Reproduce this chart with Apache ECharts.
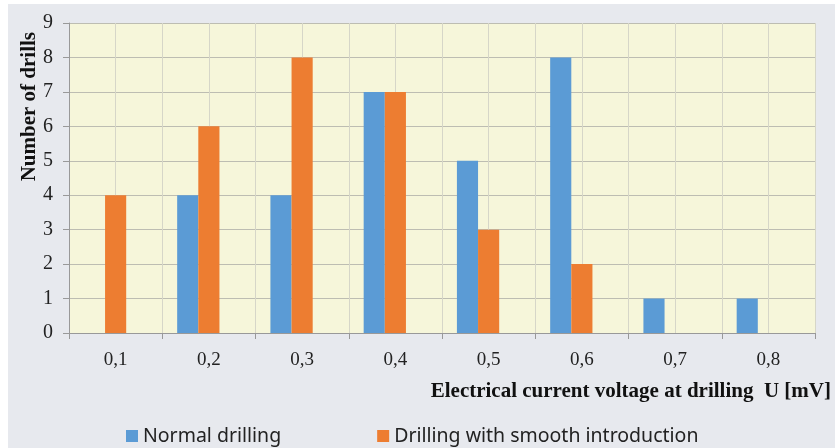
<!DOCTYPE html>
<html><head><meta charset="utf-8">
<script src="https://cdn.jsdelivr.net/npm/echarts@6/dist/echarts.min.js"></script>
<style>html,body{margin:0;padding:0;background:#fff;}#c{position:absolute;left:0;top:0;width:835px;height:448px;}</style>
</head><body><div id="c"></div>
<script>
const categories = ['0,1','0,2','0,3','0,4','0,5','0,6','0,7','0,8'];
const normalDrilling = [0,4,4,7,5,8,1,1];
const smoothIntroduction = [4,6,8,7,3,2,0,0];
const yTicks = [0,1,2,3,4,5,6,7,8,9];
const xTitle = 'Electrical current voltage at drilling  U [mV]';
const yTitle = 'Number of drills';

const chart = echarts.init(document.getElementById('c'));
const serif = '"Liberation Serif", "Times New Roman", serif';
chart.setOption({
  backgroundColor: '#ffffff',
  animation: false,
  grid: { left: 69, top: 23, right: 20, bottom: 115, show: true, backgroundColor: '#f6f6da', borderWidth: 0, outerBoundsMode: 'none', containLabel: false },
  legend: {
    data: ['Normal drilling', 'Drilling with smooth introduction'],
    left: 121, top: 421, itemWidth: 12, itemHeight: 12, itemGap: 96,
    icon: 'rect',
    textStyle: { fontFamily: '"Noto Sans", sans-serif', fontSize: 19.5, color: '#222' }
  },
  graphic: [
    { type: 'rect', z: -10, silent: true, shape: { x: 8, y: 4, width: 827, height: 444 }, style: { fill: '#e7e9ee' } },
    { type: 'text', right: 4, top: 381, style: { text: xTitle, font: 'bold 21px ' + serif, fill: '#111' } },
    { type: 'text', left: 19, top: 32, rotation: Math.PI / 2, originX: 0, originY: 0,
      style: { text: yTitle, font: 'bold 21px ' + serif, fill: '#111' } }
  ],
  xAxis: [{
    type: 'category', data: categories,
    axisLine: { lineStyle: { color: '#999' } },
    axisTick: { show: true, length: 6, lineStyle: { color: '#999' } },
    axisLabel: { fontFamily: serif, fontSize: 19, color: '#222', margin: 18 },
    splitLine: { show: true, lineStyle: { color: '#b4b4b4' } }
  }, {
    type: 'value', min: 0, max: 8, interval: 0.5, position: 'top', show: true,
    axisLine: { show: false }, axisTick: { show: false }, axisLabel: { show: false },
    splitLine: { show: true, lineStyle: { color: '#d6d6c8' } }, z: 0
  }],
  yAxis: {
    type: 'value', min: 0, max: 9, interval: 1,
    axisLine: { show: true, lineStyle: { color: '#999' } },
    axisTick: { show: true, length: 6, lineStyle: { color: '#999' } },
    axisLabel: { fontFamily: serif, fontSize: 20, color: '#222', margin: 16,
      formatter: v => yTicks.includes(v) ? String(v) : '' },
    splitLine: { show: true, lineStyle: { color: '#bdbdb2' } }
  },
  series: [
    { name: 'Normal drilling', type: 'bar', data: normalDrilling, itemStyle: { color: '#5b9bd5' }, barGap: '0%', barCategoryGap: '32%' },
    { name: 'Drilling with smooth introduction', type: 'bar', data: smoothIntroduction, itemStyle: { color: '#ed7d31' } },
    { name: 'spacer', type: 'bar', data: categories.map(() => null), itemStyle: { color: 'transparent' } }
  ]
});
</script></body></html>
